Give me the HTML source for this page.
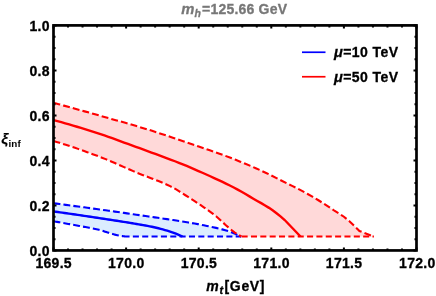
<!DOCTYPE html>
<html><head><meta charset="utf-8"><title>plot</title>
<style>html,body{margin:0;padding:0;background:#fff}body{width:436px;height:296px;overflow:hidden;font-family:"Liberation Sans",sans-serif}svg{display:block;will-change:transform}</style></head>
<body>
<svg width="436" height="296" viewBox="0 0 436 296">
<rect width="436" height="296" fill="#fff"/>
<path d="M53.50,203.25 L56.57,203.65 L59.64,204.05 L62.70,204.46 L65.77,204.86 L68.84,205.27 L71.91,205.68 L74.97,206.09 L78.04,206.50 L81.11,206.91 L84.18,207.33 L87.25,207.74 L90.31,208.16 L93.38,208.59 L96.45,209.01 L99.52,209.43 L102.58,209.86 L105.65,210.29 L108.72,210.72 L111.79,211.16 L114.86,211.59 L117.92,212.03 L120.99,212.47 L124.06,212.91 L127.13,213.35 L130.19,213.80 L133.26,214.24 L136.33,214.69 L139.40,215.14 L142.47,215.58 L145.53,216.03 L148.60,216.48 L151.67,216.93 L154.74,217.38 L157.81,217.83 L160.87,218.27 L163.94,218.71 L167.01,219.15 L170.08,219.60 L173.14,220.04 L176.21,220.51 L179.28,220.98 L182.35,221.48 L185.42,221.98 L188.48,222.50 L191.55,223.02 L194.62,223.56 L197.69,224.12 L200.75,224.70 L203.82,225.30 L206.89,225.92 L209.96,226.55 L213.03,227.20 L216.09,227.88 L219.16,228.60 L222.23,229.39 L225.30,230.23 L228.36,231.20 L231.43,232.35 L234.50,233.60 L241.10,236.50 L126.00,236.50 L126.00,236.50 L124.77,236.41 L123.54,236.29 L122.31,236.14 L121.08,235.97 L119.86,235.75 L118.63,235.50 L117.40,235.23 L116.17,234.94 L114.94,234.64 L113.71,234.30 L112.48,233.94 L111.25,233.57 L110.03,233.19 L108.80,232.81 L107.57,232.43 L106.34,232.04 L105.11,231.63 L103.88,231.22 L102.65,230.82 L101.42,230.43 L100.19,230.08 L98.97,229.77 L97.74,229.48 L96.51,229.20 L95.28,228.94 L94.05,228.68 L92.82,228.44 L91.59,228.20 L90.36,227.97 L89.14,227.74 L87.91,227.52 L86.68,227.30 L85.45,227.09 L84.22,226.87 L82.99,226.65 L81.76,226.43 L80.53,226.20 L79.31,225.97 L78.08,225.74 L76.85,225.51 L75.62,225.28 L74.39,225.05 L73.16,224.82 L71.93,224.59 L70.70,224.36 L69.47,224.13 L68.25,223.91 L67.02,223.68 L65.79,223.46 L64.56,223.23 L63.33,223.01 L62.10,222.79 L60.87,222.56 L59.64,222.34 L58.42,222.12 L57.19,221.90 L55.96,221.68 L54.73,221.47 L53.50,221.25 Z" fill="#dbedff"/>
<path d="M53.50,102.80 L58.69,104.21 L63.87,105.63 L69.06,107.05 L74.25,108.49 L79.43,109.92 L84.62,111.37 L89.81,112.82 L94.99,114.28 L100.18,115.75 L105.36,117.22 L110.55,118.68 L115.74,120.14 L120.92,121.61 L126.11,123.09 L131.30,124.59 L136.48,126.11 L141.67,127.65 L146.86,129.23 L152.04,130.84 L157.23,132.50 L162.42,134.21 L167.60,135.94 L172.79,137.70 L177.97,139.48 L183.16,141.26 L188.35,143.04 L193.53,144.80 L198.72,146.55 L203.91,148.30 L209.09,150.06 L214.28,151.85 L219.47,153.69 L224.65,155.59 L229.84,157.56 L235.03,159.58 L240.21,161.66 L245.40,163.78 L250.58,165.97 L255.77,168.22 L260.96,170.53 L266.14,172.94 L271.33,175.50 L276.52,178.13 L281.70,180.77 L286.89,183.36 L292.08,185.88 L297.26,188.44 L302.45,191.14 L307.64,193.97 L312.82,196.92 L318.01,200.00 L323.19,203.27 L328.38,206.73 L333.57,210.12 L338.75,213.30 L343.94,216.74 L349.13,221.05 L354.31,225.99 L359.50,231.00 L373.75,236.50 L241.25,236.50 L241.25,236.50 L234.50,232.40 L231.43,229.94 L228.36,227.40 L225.30,224.69 L222.23,221.82 L219.16,218.96 L216.09,216.28 L213.03,213.86 L209.96,211.59 L206.89,209.41 L203.82,207.29 L200.75,205.19 L197.69,203.13 L194.62,201.12 L191.55,199.14 L188.48,197.19 L185.42,195.26 L182.35,193.31 L179.28,191.35 L176.21,189.45 L173.14,187.70 L170.08,186.15 L167.01,184.70 L163.94,183.34 L160.87,182.04 L157.81,180.80 L154.74,179.60 L151.67,178.42 L148.60,177.25 L145.53,176.09 L142.47,174.90 L139.40,173.69 L136.33,172.44 L133.26,171.14 L130.19,169.82 L127.13,168.47 L124.06,167.12 L120.99,165.76 L117.92,164.40 L114.86,163.05 L111.79,161.72 L108.72,160.41 L105.65,159.14 L102.58,157.90 L99.52,156.72 L96.45,155.55 L93.38,154.40 L90.31,153.27 L87.25,152.15 L84.18,151.04 L81.11,149.95 L78.04,148.88 L74.97,147.83 L71.91,146.79 L68.84,145.78 L65.77,144.78 L62.70,143.80 L59.64,142.85 L56.57,141.91 L53.50,141.00 Z" fill="#ffd9d9"/>
<g fill="none" stroke="#0000ff" stroke-width="2.1" stroke-dasharray="6.9 3.1">
<path d="M53.50,203.25 L56.57,203.65 L59.64,204.05 L62.70,204.46 L65.77,204.86 L68.84,205.27 L71.91,205.68 L74.97,206.09 L78.04,206.50 L81.11,206.91 L84.18,207.33 L87.25,207.74 L90.31,208.16 L93.38,208.59 L96.45,209.01 L99.52,209.43 L102.58,209.86 L105.65,210.29 L108.72,210.72 L111.79,211.16 L114.86,211.59 L117.92,212.03 L120.99,212.47 L124.06,212.91 L127.13,213.35 L130.19,213.80 L133.26,214.24 L136.33,214.69 L139.40,215.14 L142.47,215.58 L145.53,216.03 L148.60,216.48 L151.67,216.93 L154.74,217.38 L157.81,217.83 L160.87,218.27 L163.94,218.71 L167.01,219.15 L170.08,219.60 L173.14,220.04 L176.21,220.51 L179.28,220.98 L182.35,221.48 L185.42,221.98 L188.48,222.50 L191.55,223.02 L194.62,223.56 L197.69,224.12 L200.75,224.70 L203.82,225.30 L206.89,225.92 L209.96,226.55 L213.03,227.20 L216.09,227.88 L219.16,228.60 L222.23,229.39 L225.30,230.23 L228.36,231.20 L231.43,232.35 L234.50,233.60 L241.10,236.50"/>
<path d="M53.50,221.25 L54.73,221.47 L55.96,221.68 L57.19,221.90 L58.42,222.12 L59.64,222.34 L60.87,222.56 L62.10,222.79 L63.33,223.01 L64.56,223.23 L65.79,223.46 L67.02,223.68 L68.25,223.91 L69.47,224.13 L70.70,224.36 L71.93,224.59 L73.16,224.82 L74.39,225.05 L75.62,225.28 L76.85,225.51 L78.08,225.74 L79.31,225.97 L80.53,226.20 L81.76,226.43 L82.99,226.65 L84.22,226.87 L85.45,227.09 L86.68,227.30 L87.91,227.52 L89.14,227.74 L90.36,227.97 L91.59,228.20 L92.82,228.44 L94.05,228.68 L95.28,228.94 L96.51,229.20 L97.74,229.48 L98.97,229.77 L100.19,230.08 L101.42,230.43 L102.65,230.82 L103.88,231.22 L105.11,231.63 L106.34,232.04 L107.57,232.43 L108.80,232.81 L110.03,233.19 L111.25,233.57 L112.48,233.94 L113.71,234.30 L114.94,234.64 L116.17,234.94 L117.40,235.23 L118.63,235.50 L119.86,235.75 L121.08,235.97 L122.31,236.14 L123.54,236.29 L124.77,236.41 L126.00,236.50"/>
<path d="M126,236.5H241.2" stroke-dasharray="6.05 3.3" stroke-dashoffset="2.5"/>
</g>
<path d="M53.50,211.40 L55.69,211.71 L57.87,212.01 L60.06,212.32 L62.25,212.64 L64.43,212.95 L66.62,213.26 L68.81,213.58 L70.99,213.89 L73.18,214.21 L75.36,214.53 L77.55,214.85 L79.74,215.17 L81.92,215.49 L84.11,215.82 L86.30,216.14 L88.48,216.47 L90.67,216.79 L92.86,217.12 L95.04,217.45 L97.23,217.78 L99.42,218.11 L101.60,218.44 L103.79,218.77 L105.97,219.11 L108.16,219.44 L110.35,219.77 L112.53,220.11 L114.72,220.44 L116.91,220.78 L119.09,221.13 L121.28,221.47 L123.47,221.82 L125.65,222.18 L127.84,222.54 L130.03,222.90 L132.21,223.27 L134.40,223.63 L136.58,224.00 L138.77,224.36 L140.96,224.74 L143.14,225.12 L145.33,225.51 L147.52,225.92 L149.70,226.34 L151.89,226.78 L154.08,227.25 L156.26,227.75 L158.45,228.27 L160.64,228.83 L162.82,229.43 L165.01,230.05 L167.19,230.71 L169.38,231.40 L171.57,232.13 L173.75,232.91 L175.94,233.74 L178.13,234.62 L180.31,235.54 L182.50,236.50" fill="none" stroke="#0000ff" stroke-width="2.4"/>
<g fill="none" stroke="#ff0000" stroke-width="2.1" stroke-dasharray="6.9 3.1">
<path d="M53.50,102.80 L58.69,104.21 L63.87,105.63 L69.06,107.05 L74.25,108.49 L79.43,109.92 L84.62,111.37 L89.81,112.82 L94.99,114.28 L100.18,115.75 L105.36,117.22 L110.55,118.68 L115.74,120.14 L120.92,121.61 L126.11,123.09 L131.30,124.59 L136.48,126.11 L141.67,127.65 L146.86,129.23 L152.04,130.84 L157.23,132.50 L162.42,134.21 L167.60,135.94 L172.79,137.70 L177.97,139.48 L183.16,141.26 L188.35,143.04 L193.53,144.80 L198.72,146.55 L203.91,148.30 L209.09,150.06 L214.28,151.85 L219.47,153.69 L224.65,155.59 L229.84,157.56 L235.03,159.58 L240.21,161.66 L245.40,163.78 L250.58,165.97 L255.77,168.22 L260.96,170.53 L266.14,172.94 L271.33,175.50 L276.52,178.13 L281.70,180.77 L286.89,183.36 L292.08,185.88 L297.26,188.44 L302.45,191.14 L307.64,193.97 L312.82,196.92 L318.01,200.00 L323.19,203.27 L328.38,206.73 L333.57,210.12 L338.75,213.30 L343.94,216.74 L349.13,221.05 L354.31,225.99 L359.50,231.00 L373.75,236.50"/>
<path d="M53.50,141.00 L56.57,141.91 L59.64,142.85 L62.70,143.80 L65.77,144.78 L68.84,145.78 L71.91,146.79 L74.97,147.83 L78.04,148.88 L81.11,149.95 L84.18,151.04 L87.25,152.15 L90.31,153.27 L93.38,154.40 L96.45,155.55 L99.52,156.72 L102.58,157.90 L105.65,159.14 L108.72,160.41 L111.79,161.72 L114.86,163.05 L117.92,164.40 L120.99,165.76 L124.06,167.12 L127.13,168.47 L130.19,169.82 L133.26,171.14 L136.33,172.44 L139.40,173.69 L142.47,174.90 L145.53,176.09 L148.60,177.25 L151.67,178.42 L154.74,179.60 L157.81,180.80 L160.87,182.04 L163.94,183.34 L167.01,184.70 L170.08,186.15 L173.14,187.70 L176.21,189.45 L179.28,191.35 L182.35,193.31 L185.42,195.26 L188.48,197.19 L191.55,199.14 L194.62,201.12 L197.69,203.13 L200.75,205.19 L203.82,207.29 L206.89,209.41 L209.96,211.59 L213.03,213.86 L216.09,216.28 L219.16,218.96 L222.23,221.82 L225.30,224.69 L228.36,227.40 L231.43,229.94 L234.50,232.40 L241.25,236.50"/>
<path d="M241.6,236.5H373.9" stroke-dasharray="6.05 3.3"/>
</g>
<path d="M53.50,120.10 L57.42,121.14 L61.34,122.20 L65.26,123.30 L69.17,124.42 L73.09,125.56 L77.01,126.73 L80.93,127.92 L84.85,129.13 L88.77,130.36 L92.69,131.61 L96.61,132.87 L100.52,134.15 L104.44,135.45 L108.36,136.79 L112.28,138.18 L116.20,139.60 L120.12,141.05 L124.04,142.51 L127.95,143.95 L131.87,145.38 L135.79,146.80 L139.71,148.23 L143.63,149.66 L147.55,151.09 L151.47,152.54 L155.38,153.98 L159.30,155.42 L163.22,156.86 L167.14,158.30 L171.06,159.77 L174.98,161.25 L178.90,162.77 L182.82,164.32 L186.73,165.92 L190.65,167.59 L194.57,169.29 L198.49,171.03 L202.41,172.77 L206.33,174.52 L210.25,176.27 L214.16,178.04 L218.08,179.84 L222.00,181.67 L225.92,183.55 L229.84,185.49 L233.76,187.49 L237.68,189.60 L241.59,191.80 L245.51,194.06 L249.43,196.36 L253.35,198.67 L257.27,200.94 L261.19,203.16 L265.11,205.44 L269.03,207.86 L272.94,210.51 L276.86,213.45 L280.78,216.63 L284.70,220.00 L300.50,236.50" fill="none" stroke="#ff0000" stroke-width="2.4"/>
<rect x="53.5" y="25.4" width="363.0" height="225.04999999999998" fill="none" stroke="#000" stroke-width="2.7"/>
<path d="M53.50,250.45v-3.0M53.50,25.4v3.0M68.02,250.45v-2.0M68.02,25.4v2.0M82.54,250.45v-2.0M82.54,25.4v2.0M97.06,250.45v-2.0M97.06,25.4v2.0M111.58,250.45v-2.0M111.58,25.4v2.0M126.10,250.45v-3.0M126.10,25.4v3.0M140.62,250.45v-2.0M140.62,25.4v2.0M155.14,250.45v-2.0M155.14,25.4v2.0M169.66,250.45v-2.0M169.66,25.4v2.0M184.18,250.45v-2.0M184.18,25.4v2.0M198.70,250.45v-3.0M198.70,25.4v3.0M213.22,250.45v-2.0M213.22,25.4v2.0M227.74,250.45v-2.0M227.74,25.4v2.0M242.26,250.45v-2.0M242.26,25.4v2.0M256.78,250.45v-2.0M256.78,25.4v2.0M271.30,250.45v-3.0M271.30,25.4v3.0M285.82,250.45v-2.0M285.82,25.4v2.0M300.34,250.45v-2.0M300.34,25.4v2.0M314.86,250.45v-2.0M314.86,25.4v2.0M329.38,250.45v-2.0M329.38,25.4v2.0M343.90,250.45v-3.0M343.90,25.4v3.0M358.42,250.45v-2.0M358.42,25.4v2.0M372.94,250.45v-2.0M372.94,25.4v2.0M387.46,250.45v-2.0M387.46,25.4v2.0M401.98,250.45v-2.0M401.98,25.4v2.0M416.50,250.45v-3.0M416.50,25.4v3.0M53.5,250.45h3.0M416.5,250.45h-3.0M53.5,239.20h2.0M416.5,239.20h-2.0M53.5,227.94h2.0M416.5,227.94h-2.0M53.5,216.69h2.0M416.5,216.69h-2.0M53.5,205.44h3.0M416.5,205.44h-3.0M53.5,194.19h2.0M416.5,194.19h-2.0M53.5,182.94h2.0M416.5,182.94h-2.0M53.5,171.68h2.0M416.5,171.68h-2.0M53.5,160.43h3.0M416.5,160.43h-3.0M53.5,149.18h2.0M416.5,149.18h-2.0M53.5,137.93h2.0M416.5,137.93h-2.0M53.5,126.67h2.0M416.5,126.67h-2.0M53.5,115.42h3.0M416.5,115.42h-3.0M53.5,104.17h2.0M416.5,104.17h-2.0M53.5,92.91h2.0M416.5,92.91h-2.0M53.5,81.66h2.0M416.5,81.66h-2.0M53.5,70.41h3.0M416.5,70.41h-3.0M53.5,59.16h2.0M416.5,59.16h-2.0M53.5,47.91h2.0M416.5,47.91h-2.0M53.5,36.65h2.0M416.5,36.65h-2.0M53.5,25.40h3.0M416.5,25.40h-3.0" stroke="#000" stroke-width="2" fill="none"/>
<g font-family="Liberation Sans, sans-serif" font-weight="bold" font-size="14" fill="#000" stroke="#000" stroke-width="0.3">
<g letter-spacing="0.3">
<text x="49.9" y="256.15" text-anchor="end">0.0</text>
<text x="49.9" y="211.14" text-anchor="end">0.2</text>
<text x="49.9" y="166.13" text-anchor="end">0.4</text>
<text x="49.9" y="121.12" text-anchor="end">0.6</text>
<text x="49.9" y="76.11" text-anchor="end">0.8</text>
<text x="49.9" y="31.10" text-anchor="end">1.0</text>
</g><g letter-spacing="0.3">
<text x="53.70" y="268.1" text-anchor="middle">169.5</text>
<text x="126.30" y="268.1" text-anchor="middle">170.0</text>
<text x="198.90" y="268.1" text-anchor="middle">170.5</text>
<text x="271.50" y="268.1" text-anchor="middle">171.0</text>
<text x="344.10" y="268.1" text-anchor="middle">171.5</text>
<text x="435.6" y="268.1" text-anchor="end">172.0</text>
</g>
<text x="206.3" y="291" letter-spacing="0.65"><tspan font-style="italic">m</tspan><tspan font-style="italic" font-size="11" dy="3">t</tspan><tspan dy="-3" dx="0.8">[GeV]</tspan></text>
<text x="1.3" y="144" stroke-width="0"><tspan font-style="italic" font-size="15.4" stroke-width="0.15">ξ</tspan><tspan font-size="9.9" dy="2.5" dx="0.4">inf</tspan></text>
<text x="333.9" y="57.25" letter-spacing="0.45"><tspan font-style="italic" font-size="14.6">μ</tspan>=10 TeV</text>
<text x="333.9" y="82.25" letter-spacing="0.45"><tspan font-style="italic" font-size="14.6">μ</tspan>=50 TeV</text>
</g>
<path d="M302,52.25H325.5" stroke="#0000ff" stroke-width="1.7"/>
<path d="M302,76.75H325.5" stroke="#ff0000" stroke-width="1.7"/>
<text x="181.2" y="14.3" font-family="Liberation Sans, sans-serif" font-weight="bold" font-size="14" fill="#777" stroke="#777" stroke-width="0.3" letter-spacing="0.2"><tspan font-style="italic" font-size="14.8">m</tspan><tspan font-style="italic" font-size="10.5" dy="3">h</tspan><tspan dy="-3" dx="0.9">=125.66 GeV</tspan></text>
</svg>
</body></html>
